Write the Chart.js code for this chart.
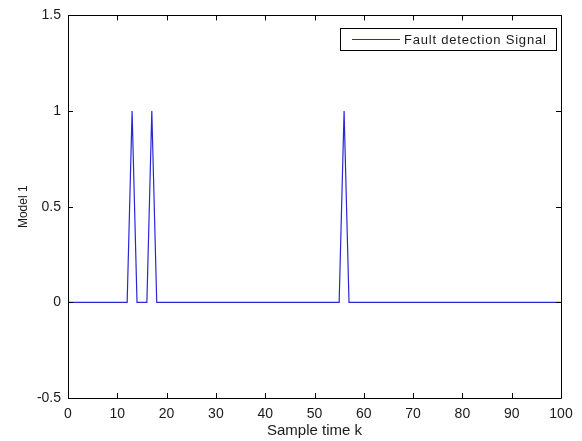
<!DOCTYPE html>
<html>
<head>
<meta charset="utf-8">
<script src="https://cdn.jsdelivr.net/npm/chart.js@4.4.0/dist/chart.umd.min.js"></script>
<style>
  html, body { margin: 0; padding: 0; background: #fff; }
  #wrap { width: 582px; height: 441px; }
</style>
</head>
<body>
<div id="wrap"><canvas id="grafico"></canvas></div>
<script>
// Datos
const tiempoK = [0, 12, 13, 14, 16, 17, 18, 55, 56, 57, 100];
const senalFallo = [0, 0, 1, 0, 0, 1, 0, 0, 1, 0, 0];
const ticksX = [0, 10, 20, 30, 40, 50, 60, 70, 80, 90, 100];
const ticksY = [-0.5, 0, 0.5, 1, 1.5];
const etiquetaSerie = 'Fault detection Signal';

const puntos = tiempoK.map((k, i) => ({ x: k, y: senalFallo[i] }));
const colorLinea = 'rgb(40, 40, 215)';
const fuente = 'Liberation Sans, Arial, sans-serif';
const colorTexto = '#1a1a1a';

// Caja, marcas hacia dentro y leyenda al estilo MATLAB
const cajaMatlab = {
    id: 'cajaMatlab',
    afterDraw(chart) {
        const ctx = chart.ctx;
        const a = chart.chartArea;
        const sx = chart.scales.x;
        const sy = chart.scales.y;
        ctx.save();
        ctx.strokeStyle = '#000';
        ctx.lineWidth = 1;
        ctx.beginPath();
        ctx.rect(Math.round(a.left) + 0.5, Math.round(a.top) + 0.5,
                 Math.round(a.right - a.left), Math.round(a.bottom - a.top));
        ctx.stroke();

        const largo = 5;
        ctx.beginPath();
        ticksX.forEach(v => {
            const px = Math.round(sx.getPixelForValue(v)) + 0.5;
            ctx.moveTo(px, a.bottom); ctx.lineTo(px, a.bottom - largo);
            ctx.moveTo(px, a.top); ctx.lineTo(px, a.top + largo);
        });
        ticksY.forEach(v => {
            const py = Math.round(sy.getPixelForValue(v)) + 0.5;
            ctx.moveTo(a.left, py); ctx.lineTo(a.left + largo, py);
            ctx.moveTo(a.right, py); ctx.lineTo(a.right - largo, py);
        });
        ctx.stroke();

        // Leyenda
        const lx = 340.5, ly = 28.5, lw = 216, lh = 22;
        ctx.fillStyle = '#fff';
        ctx.fillRect(lx, ly, lw, lh);
        ctx.strokeStyle = '#000';
        ctx.strokeRect(lx, ly, lw, lh);
        ctx.strokeStyle = colorLinea;
        ctx.lineWidth = 1.2;
        ctx.beginPath();
        ctx.moveTo(352, ly + lh / 2);
        ctx.lineTo(400, ly + lh / 2);
        ctx.stroke();
        ctx.fillStyle = colorTexto;
        ctx.font = '13px ' + fuente;
        ctx.letterSpacing = '0.8px';
        ctx.textBaseline = 'middle';
        ctx.textAlign = 'left';
        ctx.fillText(etiquetaSerie, 404, ly + lh / 2 + 1);
        ctx.restore();
    }
};

new Chart(document.getElementById('grafico'), {
    type: 'line',
    data: {
        datasets: [{
            label: etiquetaSerie,
            data: puntos,
            borderColor: colorLinea,
            borderWidth: 1.2,
            pointRadius: 0,
            fill: false,
            tension: 0
        }]
    },
    options: {
        responsive: true,
        maintainAspectRatio: false,
        animation: false,
        layout: { padding: { left: 16, right: 21, top: 14, bottom: 1 } },
        plugins: {
            legend: { display: false },
            tooltip: { enabled: false }
        },
        scales: {
            x: {
                type: 'linear',
                min: 0,
                max: 100,
                afterBuildTicks: s => { s.ticks = ticksX.map(v => ({ value: v })); },
                afterFit: s => { s.height = 42; },
                grid: { display: false, drawTicks: false },
                border: { display: false },
                ticks: { color: colorTexto, font: { family: fuente, size: 14 }, padding: 8, maxRotation: 0 },
                title: {
                    display: true,
                    text: 'Sample time k',
                    color: colorTexto,
                    font: { family: fuente, size: 15 },
                    padding: { top: 0, bottom: 0 }
                }
            },
            y: {
                type: 'linear',
                min: -0.5,
                max: 1.5,
                afterBuildTicks: s => { s.ticks = ticksY.map(v => ({ value: v })); },
                afterFit: s => { s.width = 52; },
                grid: { display: false, drawTicks: false },
                border: { display: false },
                ticks: {
                    color: colorTexto,
                    font: { family: fuente, size: 14 },
                    padding: 7,
                    callback: v => String(v)
                },
                title: {
                    display: true,
                    text: 'Model 1',
                    color: colorTexto,
                    font: { family: fuente, size: 12 },
                    padding: { top: 0, bottom: 0 }
                }
            }
        }
    },
    plugins: [cajaMatlab]
});
</script>
</body>
</html>
